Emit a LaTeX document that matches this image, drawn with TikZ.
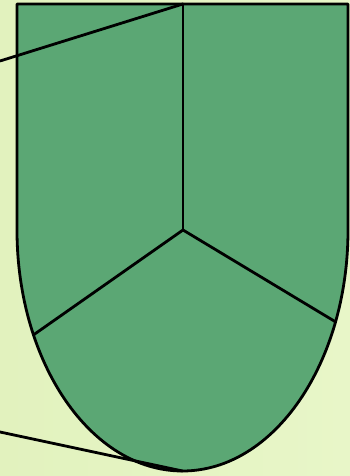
\documentclass[tikz,border=0pt]{standalone}
\usetikzlibrary{calc}
\definecolor{bgA}{RGB}{226,242,190}
\definecolor{bgB}{RGB}{232,246,200}
\definecolor{shieldfill}{RGB}{91,167,116}
\tikzset{edge/.style={line width=2.8pt,line join=round,line cap=round}}
\begin{document}
\begin{tikzpicture}[x=1pt,y=1pt]
\useasboundingbox (0,0) rectangle (350,476);
\shade[left color=bgA,right color=bgB] (0,0) rectangle (350,476);
\coordinate (C) at (183,246);
\coordinate (T) at (183,472);
\coordinate (B) at (182.5,5);
\coordinate (L) at ($(182.5,246)+(205.8:165.5 and 241)$);
\coordinate (R) at ($(182.5,246)+(337.6:165.5 and 241)$);
\coordinate (OL) at (0,415);
\coordinate (OB) at (0,44);
\draw[edge,fill=shieldfill] (17,472) -- (348,472) -- (348,246) arc[start angle=0,end angle=-180,x radius=165.5,y radius=241] -- cycle;
\draw[edge] (T) -- (C);
\draw[edge] (C) -- (L);
\draw[edge] (C) -- (R);
\draw[edge] (OL) -- (T);
\draw[edge] (OB) -- (B);
\end{tikzpicture}
\end{document}
